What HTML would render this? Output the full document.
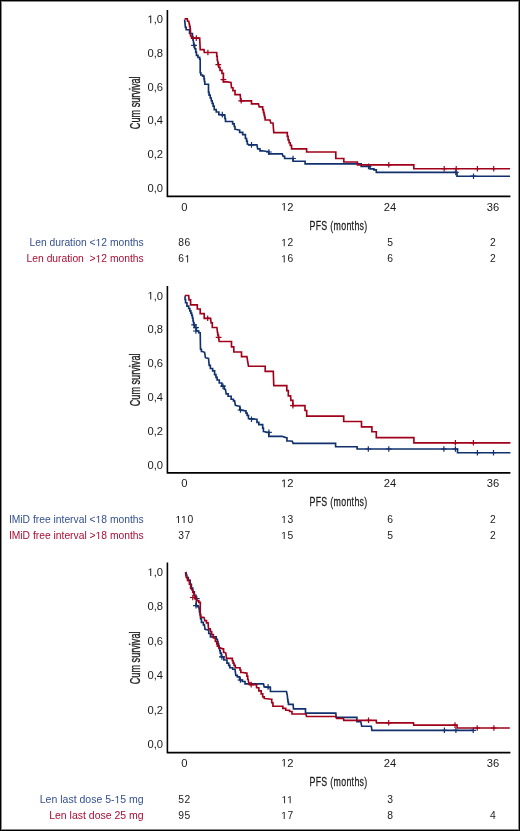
<!DOCTYPE html>
<html><head><meta charset="utf-8"><style>
html,body{margin:0;padding:0;background:#fff;}
#f{position:relative;width:520px;height:831px;overflow:hidden;background:#fff;}
svg{position:absolute;left:0;top:0;will-change:transform;}
text{font-family:"Liberation Sans",sans-serif;white-space:pre;}
.ax{font-size:11.2px;fill:#1a1a1a;}
.h1{fill-opacity:0;}
.rk{font-size:10.3px;fill:#1a1a1a;}
.rn{font-size:10.3px;letter-spacing:0.6px;fill:#1a1a1a;}
.ttl{font-size:14px;fill:#1a1a1a;stroke:#1a1a1a;stroke-width:0.3px;}
.pfs{font-size:13.3px;letter-spacing:0.45px;stroke-width:0.25px;}
</style></head><body><div id="f">
<svg width="520" height="831" viewBox="0 0 520 831">
<rect x="0.5" y="0.5" width="519" height="830" fill="none" stroke="#000" stroke-width="1"/>
<rect x="1.5" y="1.5" width="517" height="828" fill="none" stroke="#888" stroke-width="1"/>
<path d="M167.4 10.0V196.4H510.4" fill="none" stroke="#000" stroke-width="1.6"/>
<text x="163" y="23.3" text-anchor="end" class="ax"><tspan class="h1">1</tspan>,0</text>
<text x="163" y="57.0" text-anchor="end" class="ax">0,8</text>
<text x="163" y="90.7" text-anchor="end" class="ax">0,6</text>
<text x="163" y="124.3" text-anchor="end" class="ax">0,4</text>
<text x="163" y="158.0" text-anchor="end" class="ax">0,2</text>
<text x="163" y="191.7" text-anchor="end" class="ax">0,0</text>
<text x="184.3" y="210.6" text-anchor="middle" class="ax">0</text>
<text x="287.2" y="210.6" text-anchor="middle" class="ax"><tspan class="h1">1</tspan>2</text>
<text x="390.0" y="210.6" text-anchor="middle" class="ax">24</text>
<text x="492.9" y="210.6" text-anchor="middle" class="ax">36</text>
<text transform="translate(140.1 102.8) rotate(-90) scale(0.653 1)" text-anchor="middle" class="ttl">Cum survival</text>
<text transform="translate(338.5 229.7) scale(0.665 1)" text-anchor="middle" class="ttl pfs">PFS (months)</text>
<text x="143.7" y="246.2" text-anchor="end" class="rk" style="fill:#34508e;font-size:10.3px">Len duration &lt;<tspan class="h1">1</tspan>2 months</text>
<text x="184.6" y="246.2" text-anchor="middle" class="rn">86</text>
<text x="287.5" y="246.2" text-anchor="middle" class="rn"><tspan class="h1">1</tspan>2</text>
<text x="390.3" y="246.2" text-anchor="middle" class="rn">5</text>
<text x="493.2" y="246.2" text-anchor="middle" class="rn">2</text>
<text x="143.7" y="262.4" text-anchor="end" class="rk" style="fill:#aa0e35;font-size:10.3px">Len duration  &gt;<tspan class="h1">1</tspan>2 months</text>
<text x="184.6" y="262.4" text-anchor="middle" class="rn">6<tspan class="h1">1</tspan></text>
<text x="287.5" y="262.4" text-anchor="middle" class="rn"><tspan class="h1">1</tspan>6</text>
<text x="390.3" y="262.4" text-anchor="middle" class="rn">6</text>
<text x="493.2" y="262.4" text-anchor="middle" class="rn">2</text>
<polyline points="184.60,19.60 185.40,27.40 186.15,27.40 186.15,29.70 186.90,29.70 189.55,29.70 189.55,33.50 192.20,33.50 192.45,33.50 192.45,36.75 192.95,36.75 192.95,40.00 193.20,40.00 194.00,45.30 194.70,45.30 194.70,48.70 195.40,48.70 195.75,48.70 195.75,52.05 196.45,52.05 196.45,55.40 196.80,55.40 198.00,55.40 198.00,57.30 199.20,57.30 199.70,57.30 199.70,59.20 200.20,59.20 200.20,72.70 200.85,72.70 200.85,75.00 201.50,75.00 202.65,75.00 202.65,76.10 203.80,76.10 204.00,76.10 204.00,78.80 204.40,78.80 204.40,81.50 204.80,81.50 204.80,84.20 205.00,84.20 208.50,84.20 208.50,92.30 209.07,92.30 209.07,95.15 210.23,95.15 210.23,98.00 210.80,98.00 211.27,98.00 211.27,100.70 212.20,100.70 212.20,103.40 213.13,103.40 213.13,106.10 213.60,106.10 214.20,106.10 214.20,109.60 214.80,109.60 216.25,109.60 216.25,112.00 217.70,112.00 218.85,112.00 218.85,114.60 220.00,114.60 224.60,115.40 224.90,115.40 224.90,118.45 225.50,118.45 225.50,121.50 225.80,121.50 231.50,121.50 232.65,121.50 232.65,123.80 233.80,123.80 234.20,123.80 234.20,126.50 235.00,126.50 235.00,129.20 235.40,129.20 238.50,130.00 239.65,130.00 239.65,132.30 240.80,132.30 242.70,132.30 242.70,134.60 244.60,134.60 245.40,134.60 245.40,138.50 246.20,138.50 246.57,138.50 246.57,141.15 247.32,141.15 247.32,143.80 247.70,143.80 248.50,144.90 256.90,144.90 257.70,148.90 260.00,148.90 260.00,150.80 262.30,150.80 266.90,151.50 268.70,151.50 268.70,153.80 270.50,153.80 282.30,153.80 283.00,156.20 284.60,156.20 284.60,158.50 286.20,158.50 293.10,158.50 293.10,161.20 305.10,161.20 305.10,163.90 361.20,163.90 361.20,166.40 368.50,166.40 370.00,166.40 370.00,168.80 371.50,168.80 373.90,168.80 373.90,169.80 376.30,169.80 376.30,172.40 457.00,172.40 457.00,176.20 510.00,176.20" fill="none" stroke="#10306e" stroke-width="1.65" stroke-linejoin="miter"/>
<path d="M194 42.5V48.1M191.1 45.3H196.9M222.3 111.8V117.4M219.4 114.6H225.2M251.5 142.1V147.7M248.6 144.9H254.4M268.9 149.2V154.8M266 152H271.8M293 155.7V161.3M290.1 158.5H295.9M368.5 163.6V169.2M365.6 166.4H371.4M455.8 169.6V175.2M452.9 172.4H458.7M473.5 173.4V179M470.6 176.2H476.4" stroke="#10306e" stroke-width="1.2" fill="none"/>
<polyline points="184.60,18.90 187.30,18.90 187.60,21.20 188.80,21.20 189.30,24.30 189.58,24.30 189.58,26.65 190.12,26.65 190.12,29.00 190.40,29.00 190.60,36.00 191.55,36.00 191.55,38.10 192.50,38.10 199.70,38.10 200.20,49.60 204.00,49.60 204.30,52.50 216.50,52.50 216.75,52.50 216.75,56.25 217.25,56.25 217.25,60.00 217.50,60.00 218.30,64.60 218.88,64.60 218.88,67.50 220.03,67.50 220.03,70.40 220.60,70.40 222.00,70.40 222.00,73.30 223.40,73.30 223.40,81.90 226.90,81.90 231.00,82.50 231.50,87.70 232.95,87.70 232.95,90.60 234.40,90.60 235.00,90.60 235.00,94.60 235.60,94.60 240.20,94.60 240.70,100.80 251.50,100.80 251.50,103.80 258.50,103.80 259.20,106.90 262.30,106.90 262.68,106.90 262.68,109.60 263.43,109.60 263.43,112.30 263.80,112.30 264.07,112.30 264.07,114.87 264.60,114.87 264.60,117.43 265.13,117.43 265.13,120.00 265.40,120.00 270.00,120.00 270.80,123.00 273.00,123.00 273.80,132.60 286.90,132.60 287.30,132.60 287.30,136.30 288.10,136.30 288.10,140.00 288.50,140.00 289.07,140.00 289.07,142.70 290.23,142.70 290.23,145.40 290.80,145.40 291.55,145.40 291.55,148.80 292.30,148.80 306.60,148.80 306.60,152.00 335.80,152.00 335.80,158.50 343.80,158.50 343.80,162.00 357.40,162.00 357.40,164.80 413.80,164.80 413.80,168.70 510.00,168.70" fill="none" stroke="#a0001a" stroke-width="1.65" stroke-linejoin="miter"/>
<path d="M196.3 35.3V40.9M193.4 38.1H199.2M207.9 49.7V55.3M205 52.5H210.8M218.3 61.8V67.4M215.4 64.6H221.2M223.4 76.8V82.4M220.5 79.6H226.3M241.2 98V103.6M238.3 100.8H244.1M388.8 162V167.6M385.9 164.8H391.7M444.2 165.9V171.5M441.3 168.7H447.1M456.2 165.9V171.5M453.3 168.7H459.1M477.4 165.9V171.5M474.5 168.7H480.3M493.7 165.9V171.5M490.8 168.7H496.6" stroke="#a0001a" stroke-width="1.2" fill="none"/>
<path d="M167.4 286.1V472.9H510.4" fill="none" stroke="#000" stroke-width="1.6"/>
<text x="163" y="299.6" text-anchor="end" class="ax"><tspan class="h1">1</tspan>,0</text>
<text x="163" y="333.4" text-anchor="end" class="ax">0,8</text>
<text x="163" y="367.2" text-anchor="end" class="ax">0,6</text>
<text x="163" y="401.0" text-anchor="end" class="ax">0,4</text>
<text x="163" y="434.8" text-anchor="end" class="ax">0,2</text>
<text x="163" y="468.6" text-anchor="end" class="ax">0,0</text>
<text x="184.3" y="487.2" text-anchor="middle" class="ax">0</text>
<text x="287.2" y="487.2" text-anchor="middle" class="ax"><tspan class="h1">1</tspan>2</text>
<text x="390.0" y="487.2" text-anchor="middle" class="ax">24</text>
<text x="492.9" y="487.2" text-anchor="middle" class="ax">36</text>
<text transform="translate(140.1 379.9) rotate(-90) scale(0.653 1)" text-anchor="middle" class="ttl">Cum survival</text>
<text transform="translate(338.5 506.1) scale(0.665 1)" text-anchor="middle" class="ttl pfs">PFS (months)</text>
<text x="143.7" y="523.1" text-anchor="end" class="rk" style="fill:#34508e;font-size:10.3px">IMiD free interval &lt;<tspan class="h1">1</tspan>8 months</text>
<text x="184.6" y="523.1" text-anchor="middle" class="rn"><tspan class="h1">1</tspan><tspan class="h1">1</tspan>0</text>
<text x="287.5" y="523.1" text-anchor="middle" class="rn"><tspan class="h1">1</tspan>3</text>
<text x="390.3" y="523.1" text-anchor="middle" class="rn">6</text>
<text x="493.2" y="523.1" text-anchor="middle" class="rn">2</text>
<text x="143.7" y="539.0" text-anchor="end" class="rk" style="fill:#aa0e35;font-size:10.3px">IMiD free interval &gt;<tspan class="h1">1</tspan>8 months</text>
<text x="184.6" y="539.0" text-anchor="middle" class="rn">37</text>
<text x="287.5" y="539.0" text-anchor="middle" class="rn"><tspan class="h1">1</tspan>5</text>
<text x="390.3" y="539.0" text-anchor="middle" class="rn">5</text>
<text x="493.2" y="539.0" text-anchor="middle" class="rn">2</text>
<polyline points="184.80,296.30 185.05,296.30 185.05,299.50 185.55,299.50 185.55,302.70 185.80,302.70 186.95,302.70 186.95,306.10 188.10,306.10 188.68,306.10 188.68,308.45 189.82,308.45 189.82,310.80 190.40,310.80 190.82,310.80 190.82,313.10 191.68,313.10 191.68,315.40 192.10,315.40 192.40,315.40 192.40,318.00 193.00,318.00 193.00,320.60 193.30,320.60 193.80,324.60 194.70,324.60 194.70,327.50 195.60,327.50 196.45,327.50 196.45,331.00 197.30,331.00 198.75,331.00 198.75,332.70 200.20,332.70 200.50,349.20 201.40,349.20 201.40,351.50 202.30,351.50 204.60,352.30 205.40,357.70 208.50,358.50 209.20,365.40 210.35,365.40 210.35,368.50 211.50,368.50 212.65,368.50 212.65,370.80 213.80,370.80 214.60,370.80 214.60,374.60 215.40,374.60 215.97,374.60 215.97,377.30 217.12,377.30 217.12,380.00 217.70,380.00 219.25,380.00 219.25,383.00 220.80,383.00 221.90,383.00 221.90,386.20 223.00,386.20 224.20,386.20 224.20,389.20 225.40,389.20 226.20,393.80 228.10,393.80 228.10,396.20 230.00,396.20 231.15,396.20 231.15,399.20 232.30,399.20 233.45,399.20 233.45,400.80 234.60,400.80 235.40,405.40 239.20,406.20 239.85,406.20 239.85,410.00 240.50,410.00 245.40,410.80 245.97,410.80 245.97,413.10 247.12,413.10 247.12,415.40 247.70,415.40 248.45,415.40 248.45,418.50 249.20,418.50 256.20,419.20 256.95,419.20 256.95,422.30 257.70,422.30 258.85,422.30 258.85,424.60 260.00,424.60 262.30,424.60 262.68,424.60 262.68,428.05 263.43,428.05 263.43,431.50 263.80,431.50 266.90,432.30 268.85,432.30 268.85,436.30 270.80,436.30 282.30,436.30 283.80,436.90 286.20,437.70 286.95,437.70 286.95,440.80 287.70,440.80 292.30,441.20 293.10,443.30 335.60,443.30 335.60,446.70 357.10,446.70 357.10,449.00 457.50,449.00 457.50,452.70 510.40,452.70" fill="none" stroke="#10306e" stroke-width="1.65" stroke-linejoin="miter"/>
<path d="M194.1 322V327.6M191.2 324.8H197M196 324.9V330.5M193.1 327.7H198.9M195.9 328.2V333.8M193 331H198.8M223 383.4V389M220.1 386.2H225.9M240.5 407.2V412.8M237.6 410H243.4M251.5 416.4V422M248.6 419.2H254.4M268.9 429.5V435.1M266 432.3H271.8M368.3 446.2V451.8M365.4 449H371.2M388.8 446.2V451.8M385.9 449H391.7M443.9 446.2V451.8M441 449H446.8M455.4 446.2V451.8M452.5 449H458.3M477.4 449.9V455.5M474.5 452.7H480.3M493.5 449.9V455.5M490.6 452.7H496.4" stroke="#10306e" stroke-width="1.2" fill="none"/>
<polyline points="184.80,295.50 188.70,295.50 189.00,299.80 190.60,299.80 190.60,304.80 197.30,304.80 197.30,309.00 200.20,309.00 200.20,313.60 204.20,313.60 204.20,318.30 210.60,318.30 211.10,322.90 212.30,322.90 212.30,327.50 216.90,327.50 217.50,332.70 217.78,332.70 217.78,335.00 218.32,335.00 218.32,337.30 218.60,337.30 219.20,341.50 231.50,341.50 231.50,346.90 233.80,346.90 233.80,352.00 241.50,352.00 241.50,356.60 246.90,356.60 247.70,361.50 248.50,366.20 265.20,366.20 265.20,371.30 273.30,371.30 273.60,380.80 273.80,385.60 286.80,385.60 286.80,390.60 288.30,390.60 288.30,395.80 290.60,395.80 290.90,400.40 292.90,400.40 292.90,405.60 305.00,405.60 305.00,410.50 306.70,410.50 306.70,416.10 343.70,416.10 343.70,421.50 361.50,421.50 361.50,426.90 371.90,426.90 371.90,431.70 376.30,431.70 376.30,437.60 413.90,437.60 413.90,442.80 510.40,442.80" fill="none" stroke="#a0001a" stroke-width="1.65" stroke-linejoin="miter"/>
<path d="M207.7 315.5V321.1M204.8 318.3H210.6M218.6 334.5V340.1M215.7 337.3H221.5M292.9 402.8V408.4M290 405.6H295.8M455.4 440V445.6M452.5 442.8H458.3M473.4 440V445.6M470.5 442.8H476.3" stroke="#a0001a" stroke-width="1.2" fill="none"/>
<path d="M167.4 562.6V752.6H510.4" fill="none" stroke="#000" stroke-width="1.6"/>
<text x="163" y="576.1" text-anchor="end" class="ax"><tspan class="h1">1</tspan>,0</text>
<text x="163" y="610.4" text-anchor="end" class="ax">0,8</text>
<text x="163" y="644.8" text-anchor="end" class="ax">0,6</text>
<text x="163" y="679.1" text-anchor="end" class="ax">0,4</text>
<text x="163" y="713.5" text-anchor="end" class="ax">0,2</text>
<text x="163" y="747.8" text-anchor="end" class="ax">0,0</text>
<text x="184.3" y="766.6" text-anchor="middle" class="ax">0</text>
<text x="287.2" y="766.6" text-anchor="middle" class="ax"><tspan class="h1">1</tspan>2</text>
<text x="390.0" y="766.6" text-anchor="middle" class="ax">24</text>
<text x="492.9" y="766.6" text-anchor="middle" class="ax">36</text>
<text transform="translate(140.1 657.85) rotate(-90) scale(0.653 1)" text-anchor="middle" class="ttl">Cum survival</text>
<text transform="translate(338.5 785.7) scale(0.665 1)" text-anchor="middle" class="ttl pfs">PFS (months)</text>
<text x="143.7" y="803.3" text-anchor="end" class="rk" style="fill:#34508e;font-size:10.5px">Len last dose 5-<tspan class="h1">1</tspan>5 mg</text>
<text x="184.6" y="803.3" text-anchor="middle" class="rn">52</text>
<text x="287.5" y="803.3" text-anchor="middle" class="rn"><tspan class="h1">1</tspan><tspan class="h1">1</tspan></text>
<text x="390.3" y="803.3" text-anchor="middle" class="rn">3</text>
<text x="143.7" y="819.0" text-anchor="end" class="rk" style="fill:#aa0e35;font-size:10.5px">Len last dose 25 mg</text>
<text x="184.6" y="819.0" text-anchor="middle" class="rn">95</text>
<text x="287.5" y="819.0" text-anchor="middle" class="rn"><tspan class="h1">1</tspan>7</text>
<text x="390.3" y="819.0" text-anchor="middle" class="rn">8</text>
<text x="493.2" y="819.0" text-anchor="middle" class="rn">4</text>
<polyline points="185.90,572.60 186.20,572.60 186.20,575.05 186.80,575.05 186.80,577.50 187.10,577.50 188.30,577.50 188.30,580.40 189.50,580.40 190.20,580.40 190.20,584.20 190.90,584.20 191.40,584.20 191.40,588.10 191.90,588.10 192.75,588.10 192.75,591.90 193.60,591.90 194.35,591.90 194.35,595.20 195.10,595.20 195.95,595.20 195.95,598.70 196.80,598.70 196.30,601.50 196.10,605.60 197.45,605.60 197.45,606.70 198.80,606.70 199.10,609.00 199.43,609.00 199.43,612.00 200.07,612.00 200.07,615.00 200.40,615.00 200.60,618.90 201.45,618.90 201.45,622.30 202.30,622.30 203.35,622.30 203.35,624.80 204.40,624.80 205.00,629.40 207.90,630.00 208.75,630.00 208.75,633.45 210.45,633.45 210.45,636.90 211.30,636.90 215.40,636.90 216.25,636.90 216.25,639.20 217.10,639.20 217.40,639.20 217.40,641.50 218.00,641.50 218.00,643.80 218.30,643.80 218.58,643.80 218.58,646.10 219.12,646.10 219.12,648.40 219.40,648.40 219.70,648.40 219.70,650.75 220.30,650.75 220.30,653.10 220.60,653.10 221.25,653.10 221.25,656.90 221.90,656.90 223.85,656.90 223.85,660.00 225.80,660.00 226.95,660.00 226.95,663.10 228.10,663.10 228.68,663.10 228.68,665.40 229.82,665.40 229.82,667.70 230.40,667.70 232.70,667.70 232.70,669.20 235.00,669.20 235.80,675.40 237.30,675.40 237.30,676.90 238.80,676.90 239.60,676.90 239.60,680.00 240.40,680.00 242.30,680.00 242.30,681.50 244.20,681.50 245.00,681.50 245.00,683.80 245.80,683.80 263.50,683.80 264.20,686.90 270.40,687.70 270.40,691.50 286.50,691.50 287.30,695.40 287.70,699.60 287.95,699.60 287.95,702.00 288.45,702.00 288.45,704.40 288.70,704.40 293.10,704.40 293.50,708.80 305.00,708.80 305.50,708.80 305.50,713.10 306.00,713.10 335.80,713.10 336.20,717.30 356.90,717.30 356.90,721.70 360.80,721.70 361.70,726.20 371.30,726.20 371.90,730.30 474.00,730.30" fill="none" stroke="#10306e" stroke-width="1.65" stroke-linejoin="miter"/>
<path d="M196.8 595.9V601.5M193.9 598.7H199.7M196 602.8V608.4M193.1 605.6H198.9M221.9 654.1V659.7M219 656.9H224.8M240.4 677.2V682.8M237.5 680H243.3M268.1 684.1V689.7M265.2 686.9H271M444.4 727.5V733.1M441.5 730.3H447.3M455.9 727.5V733.1M453 730.3H458.8M473.2 727.5V733.1M470.3 730.3H476.1" stroke="#10306e" stroke-width="1.2" fill="none"/>
<polyline points="185.50,572.20 186.30,577.50 187.50,577.50 187.50,580.40 188.70,580.40 189.40,580.40 189.40,584.20 190.10,584.20 190.60,584.20 190.60,588.10 191.10,588.10 191.90,590.00 192.80,590.00 192.80,592.30 193.70,592.30 194.20,595.80 195.10,595.80 195.10,598.70 196.00,598.70 196.70,598.70 196.70,600.70 197.40,600.70 198.85,600.70 198.85,602.40 200.30,602.40 200.20,614.20 200.70,614.20 200.70,617.10 201.20,617.10 204.00,617.40 204.90,620.60 206.50,620.60 206.50,622.90 208.10,622.90 208.50,628.80 210.20,628.80 210.80,631.70 211.65,631.70 211.65,634.60 212.50,634.60 213.35,634.60 213.35,638.00 214.20,638.00 215.35,638.00 215.35,641.50 216.50,641.50 216.80,641.50 216.80,643.80 217.40,643.80 217.40,646.10 217.70,646.10 218.85,646.10 218.85,647.90 220.00,647.90 222.90,648.80 223.55,648.80 223.55,652.30 224.20,652.30 225.80,653.10 226.50,658.30 231.90,658.30 232.30,658.30 232.30,660.70 233.10,660.70 233.10,663.10 233.50,663.10 234.07,663.10 234.07,665.40 235.23,665.40 235.23,667.70 235.80,667.70 239.60,667.70 240.00,667.70 240.00,670.00 240.80,670.00 240.80,672.30 241.20,672.30 246.50,673.10 246.90,673.10 246.90,676.15 247.70,676.15 247.70,679.20 248.10,679.20 248.80,683.10 250.00,683.10 250.00,684.60 251.20,684.60 255.80,684.60 256.55,684.60 256.55,687.70 257.30,687.70 258.85,687.70 258.85,690.80 260.40,690.80 261.17,690.80 261.17,693.85 262.73,693.85 262.73,696.90 263.50,696.90 264.25,696.90 264.25,698.50 265.00,698.50 271.20,699.20 271.77,699.20 271.77,702.70 272.93,702.70 272.93,706.20 273.50,706.20 281.90,706.20 282.85,706.20 282.85,708.30 283.80,708.30 285.75,708.30 285.75,710.20 287.70,710.20 289.60,710.20 289.60,711.50 291.50,711.50 292.00,711.50 292.00,714.00 292.50,714.00 306.00,714.00 306.50,716.50 335.80,716.50 336.70,718.50 343.50,718.50 343.80,720.30 376.20,720.30 376.50,722.80 413.50,722.80 413.80,725.10 456.80,725.10 457.30,728.00 509.80,728.00" fill="none" stroke="#a0001a" stroke-width="1.65" stroke-linejoin="miter"/>
<path d="M192.8 594.7V600.3M189.9 597.5H195.7M251.2 681.8V687.4M248.3 684.6H254.1M368.5 717.5V723.1M365.6 720.3H371.4M388.7 720V725.6M385.8 722.8H391.6M455 722.3V727.9M452.1 725.1H457.9M477.2 725.2V730.8M474.3 728H480.1M493.9 725.2V730.8M491 728H496.8" stroke="#a0001a" stroke-width="1.2" fill="none"/>

<path d="M515 0L696 0L696 1409L530 1409L197 1180L197 1010L515 1237Z" transform="translate(147.42 23.30) scale(0.005469 -0.005469)" fill="rgb(26, 26, 26)"/>
<path d="M515 0L696 0L696 1409L530 1409L197 1180L197 1010L515 1237Z" transform="translate(280.97 210.60) scale(0.005469 -0.005469)" fill="rgb(26, 26, 26)"/>
<path d="M515 0L696 0L696 1409L530 1409L197 1180L197 1010L515 1237Z" transform="translate(95.61 246.20) scale(0.005029 -0.005029)" fill="rgb(52, 80, 142)"/>
<path d="M515 0L696 0L696 1409L530 1409L197 1180L197 1010L515 1237Z" transform="translate(281.17 246.20) scale(0.005029 -0.005029)" fill="rgb(26, 26, 26)"/>
<path d="M515 0L696 0L696 1409L530 1409L197 1180L197 1010L515 1237Z" transform="translate(95.61 262.40) scale(0.005029 -0.005029)" fill="rgb(170, 14, 53)"/>
<path d="M515 0L696 0L696 1409L530 1409L197 1180L197 1010L515 1237Z" transform="translate(184.60 262.40) scale(0.005029 -0.005029)" fill="rgb(26, 26, 26)"/>
<path d="M515 0L696 0L696 1409L530 1409L197 1180L197 1010L515 1237Z" transform="translate(281.17 262.40) scale(0.005029 -0.005029)" fill="rgb(26, 26, 26)"/>
<path d="M515 0L696 0L696 1409L530 1409L197 1180L197 1010L515 1237Z" transform="translate(147.42 299.60) scale(0.005469 -0.005469)" fill="rgb(26, 26, 26)"/>
<path d="M515 0L696 0L696 1409L530 1409L197 1180L197 1010L515 1237Z" transform="translate(280.97 487.20) scale(0.005469 -0.005469)" fill="rgb(26, 26, 26)"/>
<path d="M515 0L696 0L696 1409L530 1409L197 1180L197 1010L515 1237Z" transform="translate(95.61 523.10) scale(0.005029 -0.005029)" fill="rgb(52, 80, 142)"/>
<path d="M515 0L696 0L696 1409L530 1409L197 1180L197 1010L515 1237Z" transform="translate(175.49 523.10) scale(0.005029 -0.005029)" fill="rgb(26, 26, 26)"/>
<path d="M515 0L696 0L696 1409L530 1409L197 1180L197 1010L515 1237Z" transform="translate(181.05 523.10) scale(0.005029 -0.005029)" fill="rgb(26, 26, 26)"/>
<path d="M515 0L696 0L696 1409L530 1409L197 1180L197 1010L515 1237Z" transform="translate(281.17 523.10) scale(0.005029 -0.005029)" fill="rgb(26, 26, 26)"/>
<path d="M515 0L696 0L696 1409L530 1409L197 1180L197 1010L515 1237Z" transform="translate(95.61 539.00) scale(0.005029 -0.005029)" fill="rgb(170, 14, 53)"/>
<path d="M515 0L696 0L696 1409L530 1409L197 1180L197 1010L515 1237Z" transform="translate(281.17 539.00) scale(0.005029 -0.005029)" fill="rgb(26, 26, 26)"/>
<path d="M515 0L696 0L696 1409L530 1409L197 1180L197 1010L515 1237Z" transform="translate(147.42 576.10) scale(0.005469 -0.005469)" fill="rgb(26, 26, 26)"/>
<path d="M515 0L696 0L696 1409L530 1409L197 1180L197 1010L515 1237Z" transform="translate(280.97 766.60) scale(0.005469 -0.005469)" fill="rgb(26, 26, 26)"/>
<path d="M515 0L696 0L696 1409L530 1409L197 1180L197 1010L515 1237Z" transform="translate(114.51 803.30) scale(0.005127 -0.005127)" fill="rgb(52, 80, 142)"/>
<path d="M515 0L696 0L696 1409L530 1409L197 1180L197 1010L515 1237Z" transform="translate(281.55 803.30) scale(0.005029 -0.005029)" fill="rgb(26, 26, 26)"/>
<path d="M515 0L696 0L696 1409L530 1409L197 1180L197 1010L515 1237Z" transform="translate(287.12 803.30) scale(0.005029 -0.005029)" fill="rgb(26, 26, 26)"/>
<path d="M515 0L696 0L696 1409L530 1409L197 1180L197 1010L515 1237Z" transform="translate(281.17 819.00) scale(0.005029 -0.005029)" fill="rgb(26, 26, 26)"/>
</svg></div></body></html>
